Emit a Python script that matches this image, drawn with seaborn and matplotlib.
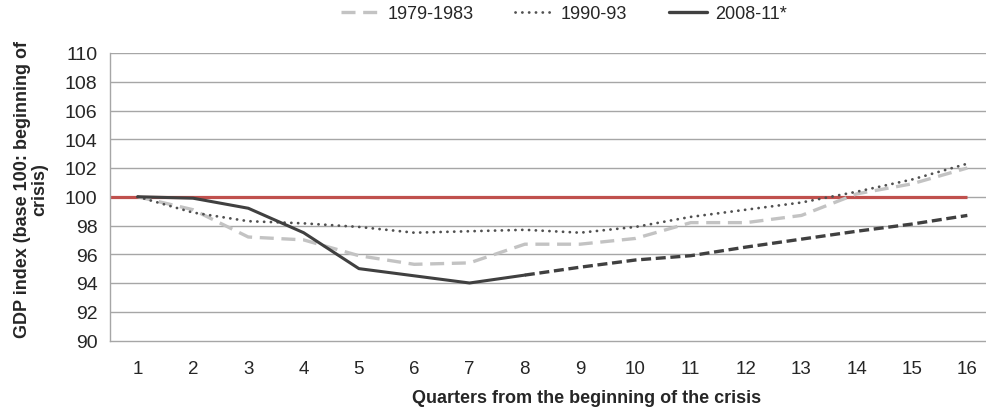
import numpy as np
import pandas as pd
import seaborn as sns
import matplotlib
matplotlib.use("Agg")
import matplotlib.pyplot as plt
from matplotlib.lines import Line2D

# ---- data ----
quarters = list(range(1, 17))
s_1979 = [100.0, 99.1, 97.2, 97.0, 95.9, 95.3, 95.4, 96.7, 96.7, 97.1, 98.2, 98.2, 98.7, 100.2, 100.9, 102.0]
s_1990 = [100.0, 98.9, 98.3, 98.15, 97.9, 97.5, 97.6, 97.7, 97.5, 97.9, 98.6, 99.1, 99.6, 100.35, 101.2, 102.3]
q_2008_actual = [1, 2, 3, 4, 5, 6, 7, 8]
s_2008_actual = [100.0, 99.9, 99.2, 97.5, 95.0, 94.5, 94.0, 94.55]
q_2008_fcst = [8, 9, 10, 11, 12, 13, 14, 15, 16]
s_2008_fcst = [94.55, 95.1, 95.6, 95.9, 96.5, 97.05, 97.6, 98.1, 98.7]
baseline = 100
legend_labels = ["1979-1983", "1990-93", "2008-11*"]
y_ticks = list(range(90, 111, 2))

sns.set_style("white")
plt.rcParams['font.family'] = ['Liberation Sans', 'DejaVu Sans']

fig = plt.figure(figsize=(9.86, 4.10), dpi=100)
W, H = 986, 410
left_px, right_px = 110, 995
top_px, bot_px = 54, 341.5
ax = fig.add_axes([left_px / W, 1 - bot_px / H, (right_px - left_px) / W, (bot_px - top_px) / H])

grid_c = "#a6a6a6"
for y in y_ticks[1:]:
    ax.axhline(y, color=grid_c, lw=1.0, zorder=0)

df79 = pd.DataFrame({"q": quarters, "v": s_1979})
df90 = pd.DataFrame({"q": quarters, "v": s_1990})
dfa = pd.DataFrame({"q": q_2008_actual, "v": s_2008_actual})
dff = pd.DataFrame({"q": q_2008_fcst, "v": s_2008_fcst})

# red baseline
ax.plot([0.5, 16], [baseline, baseline], color="#c0504d", lw=2.3, zorder=2, solid_capstyle="butt")

dash79 = [4.2, 2.3]
dot90 = [0.05, 2.4]
sns.lineplot(data=df79, x="q", y="v", ax=ax, color="#c3c3c3", lw=2.4, zorder=3)
ax.lines[-1].set_dashes(dash79)
sns.lineplot(data=df90, x="q", y="v", ax=ax, color="#505050", lw=2.0, zorder=4)
ax.lines[-1].set_dashes(dot90)
ax.lines[-1].set_dash_capstyle("round")
sns.lineplot(data=dfa, x="q", y="v", ax=ax, color="#404040", lw=2.2, zorder=5)
sns.lineplot(data=dff, x="q", y="v", ax=ax, color="#404040", lw=2.4, zorder=5)
ax.lines[-1].set_dashes([3.0, 1.4])

ax.set_xlim(0.5, 16.5)
ax.set_ylim(90, 110)
ax.set_yticks(y_ticks)
ax.set_yticklabels([str(t) for t in y_ticks], fontsize=14)
ax.set_xticks(quarters)
ax.set_xticklabels([str(q) for q in quarters], fontsize=13.5)
ax.set_xticks(np.arange(0.5, 16.6, 1), minor=True)
ax.tick_params(axis="x", which="major", length=0, pad=14)
ax.tick_params(axis="x", which="minor", length=5, color=grid_c, width=1, direction="out")
ax.tick_params(axis="y", which="major", length=5, color=grid_c, width=1, direction="out", pad=4)

for s in ["top", "right"]:
    ax.spines[s].set_visible(False)
for s in ["left", "bottom"]:
    ax.spines[s].set_color(grid_c)
    ax.spines[s].set_linewidth(1.0)

ax.set_xlabel("Quarters from the beginning of the crisis", fontsize=13.0, fontweight="bold")
ax.xaxis.set_label_coords(0.539, -0.167)
ax.set_ylabel("GDP index (base 100: beginning of\ncrisis)", fontsize=13.0, fontweight="bold",
              linespacing=1.0)
ax.yaxis.set_label_coords(-0.070, 0.529)

h1 = Line2D([], [], color="#c3c3c3", lw=2.4, dashes=dash79)
h2 = Line2D([], [], color="#505050", lw=2.0, dashes=dot90, dash_capstyle="round")
h3 = Line2D([], [], color="#404040", lw=2.4)
fig.legend([h1, h2, h3], legend_labels, loc="upper center", bbox_to_anchor=(0.572, 1.025), ncol=3,
           frameon=False, fontsize=13, handlelength=2.1, handletextpad=0.45, columnspacing=2.3)

fig.savefig("out.png", dpi=100)
